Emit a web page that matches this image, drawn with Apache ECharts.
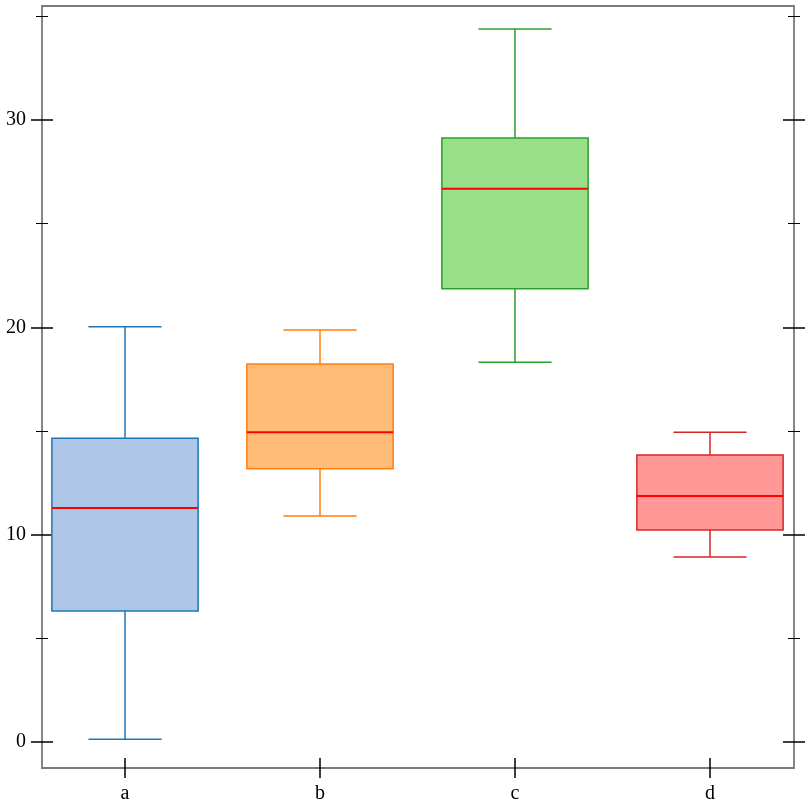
<!DOCTYPE html>
<html>
<head>
<meta charset="utf-8">
<script src="https://cdn.jsdelivr.net/npm/echarts@6/dist/echarts.min.js"></script>
<style>
  html, body { margin: 0; padding: 0; background: #fff; }
  #chart { width: 812px; height: 812px; }
</style>
</head>
<body>
<div id="chart"></div>
<script>
const categories = ['a', 'b', 'c', 'd'];
const mins = [0.14, 10.9, 18.32, 8.93];
const q1s = [6.32, 13.18, 21.86, 10.23];
const medians = [11.29, 14.94, 26.69, 11.87];
const q3s = [14.65, 18.24, 29.13, 13.85];
const maxs = [20.03, 19.88, 34.39, 14.94];

const strokeColors = ['#1f77b4', '#ff7f0e', '#2ca02c', '#d62728'];
const fillColors = ['#aec7e8', '#ffbb78', '#98df8a', '#ff9896'];

const FONT = 'Liberation Serif, DejaVu Serif, serif';

// frame extent (value range and pixel box)
const Y_MIN = -1.25, Y_MAX = 35.5;
const TOP = 6, BOTTOM = 768, LEFT = 42, RIGHT = 794;
const H = BOTTOM - TOP;
const px = v => TOP + (Y_MAX - v) / (Y_MAX - Y_MIN) * H;

const chart = echarts.init(document.getElementById('chart'));

const hiddenX = (g) => ({ gridIndex: g, type: 'value', show: false });
const tickStyle = { color: '#000', width: 1.5 };

// category x axis; ticks drawn half outside, half inside the frame
const catAxis = (inside) => ({
  gridIndex: 1,
  type: 'category',
  data: categories,
  position: 'bottom',
  axisLine: { show: false, onZero: false },
  axisTick: { show: true, inside: inside, alignWithLabel: true, length: 10, lineStyle: tickStyle },
  axisLabel: { show: !inside, margin: 16, fontSize: 20, fontFamily: FONT, color: '#000' },
  splitLine: { show: false }
});

const option = {
  animation: false,
  grid: [
    // frame
    { left: LEFT, top: TOP, width: RIGHT - LEFT, height: H, show: true, borderColor: '#7a7a7a', borderWidth: 1.8 },
    // data (category bands of 195px)
    { left: 27.5, top: TOP, width: 780, height: H },
    // major ticks 0..30
    { left: LEFT, width: RIGHT - LEFT, top: px(30), height: px(0) - px(30) },
    // minor ticks 5..35
    { left: LEFT, width: RIGHT - LEFT, top: px(35), height: px(5) - px(35) }
  ],
  xAxis: [
    hiddenX(0),
    catAxis(false),
    catAxis(true),
    hiddenX(2),
    hiddenX(3)
  ],
  yAxis: [
    { gridIndex: 0, type: 'value', min: Y_MIN, max: Y_MAX, show: false },
    { gridIndex: 1, type: 'value', min: Y_MIN, max: Y_MAX, show: false },
    {
      gridIndex: 2, type: 'value', position: 'left', min: 0, max: 30, interval: 10, offset: -11,
      axisLine: { show: false, onZero: false },
      axisTick: { length: 22, lineStyle: tickStyle },
      axisLabel: { margin: 27, fontSize: 20, fontFamily: FONT, color: '#000' },
      splitLine: { show: false }
    },
    {
      gridIndex: 2, type: 'value', position: 'right', min: 0, max: 30, interval: 10, offset: -11,
      axisLine: { show: false, onZero: false },
      axisTick: { length: 22, lineStyle: tickStyle },
      axisLabel: { show: false },
      splitLine: { show: false }
    },
    {
      gridIndex: 3, type: 'value', position: 'left', min: 5, max: 35, interval: 10, offset: -6,
      axisLine: { show: false, onZero: false },
      axisTick: { length: 12, lineStyle: { color: '#000', width: 1 } },
      axisLabel: { show: false },
      splitLine: { show: false }
    },
    {
      gridIndex: 3, type: 'value', position: 'right', min: 5, max: 35, interval: 10, offset: -6,
      axisLine: { show: false, onZero: false },
      axisTick: { length: 12, lineStyle: { color: '#000', width: 1 } },
      axisLabel: { show: false },
      splitLine: { show: false }
    }
  ],
  series: [{
    type: 'custom',
    xAxisIndex: 1,
    yAxisIndex: 1,
    encode: { x: 0, y: [1, 2, 3, 4, 5] },
    data: categories.map((c, i) => [i, mins[i], q1s[i], medians[i], q3s[i], maxs[i]]),
    renderItem: (params, api) => {
      const i = api.value(0);
      const bw = api.size([1, 0])[0] * 0.75;
      const cx = api.coord([i, 0])[0];
      const y = k => api.coord([i, api.value(k)])[1];
      const yMin = y(1), yQ1 = y(2), yMed = y(3), yQ3 = y(4), yMax = y(5);
      const cap = bw / 4;
      const stroke = strokeColors[i];
      const line = (x1, y1, x2, y2, color, w) => ({
        type: 'line', shape: { x1, y1, x2, y2 }, style: { stroke: color, lineWidth: w }
      });
      return {
        type: 'group',
        children: [
          line(cx, yMin, cx, yQ1, stroke, 1.5),
          line(cx, yQ3, cx, yMax, stroke, 1.5),
          line(cx - cap, yMin, cx + cap, yMin, stroke, 1.5),
          line(cx - cap, yMax, cx + cap, yMax, stroke, 1.5),
          {
            type: 'rect',
            shape: { x: cx - bw / 2, y: yQ3, width: bw, height: yQ1 - yQ3 },
            style: { fill: fillColors[i], stroke: stroke, lineWidth: 1.5 }
          },
          line(cx - bw / 2, yMed, cx + bw / 2, yMed, '#ff0000', 2)
        ]
      };
    }
  }]
};

chart.setOption(option);
window.addEventListener('resize', () => chart.resize());
</script>
</body>
</html>
